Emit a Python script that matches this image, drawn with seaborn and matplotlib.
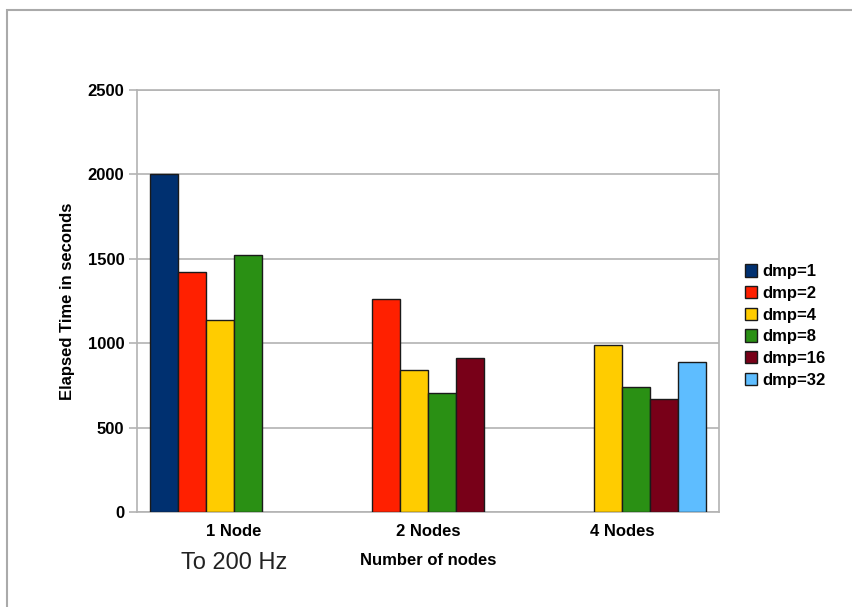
import numpy as np
import pandas as pd
import matplotlib
matplotlib.use("Agg")
import matplotlib.pyplot as plt
import seaborn as sns
from matplotlib.patches import Rectangle

# Elapsed time per node count and dmp setting (NaN = configuration not run)
node_labels = ["1 Node", "2 Nodes", "4 Nodes"]
dmp_labels = ["dmp=1", "dmp=2", "dmp=4", "dmp=8", "dmp=16", "dmp=32"]
dmp1 = [2000, np.nan, np.nan]
dmp2 = [1420, 1260, np.nan]
dmp4 = [1135, 840, 990]
dmp8 = [1520, 705, 740]
dmp16 = [np.nan, 910, 670]
dmp32 = [np.nan, np.nan, 890]
y_ticks = [0, 500, 1000, 1500, 2000, 2500]

colors = ["#003070", "#ff2000", "#ffcc00", "#2a9014", "#780018", "#5ebdff"]

series = [dmp1, dmp2, dmp4, dmp8, dmp16, dmp32]
rows = []
for label, vals in zip(dmp_labels, series):
    for node, v in zip(node_labels, vals):
        rows.append({"nodes": node, "dmp": label, "time": v})
df = pd.DataFrame(rows)

sns.set_theme(style="white")
plt.rcParams["font.family"] = ["Liberation Sans", "DejaVu Sans"]
plt.rcParams["text.color"] = "black"
plt.rcParams["axes.labelcolor"] = "black"
plt.rcParams["xtick.labelcolor"] = "black"
plt.rcParams["ytick.labelcolor"] = "black"

fig = plt.figure(figsize=(8.53, 6.07), dpi=100)
ax = fig.add_axes([137 / 853, 1 - 512 / 607, (719 - 137) / 853, (512 - 90) / 607])

sns.barplot(data=df, x="nodes", y="time", hue="dmp", order=node_labels,
            hue_order=dmp_labels, palette=colors, width=0.866, dodge=True,
            edgecolor="#1a1a1a", linewidth=1.0, saturation=1, ax=ax,
            legend=True, zorder=3)

ax.set_ylim(0, 2500)
ax.set_xlim(-0.5, 2.5)
ax.set_yticks(y_ticks)
ax.set_yticklabels([str(t) for t in y_ticks], fontsize=12, fontweight="bold")
ax.yaxis.grid(True, color="#b3b3b3", linewidth=1.2, zorder=0)
ax.set_axisbelow(True)

# category labels centred, ticks at category boundaries
ax.set_xticks([0, 1, 2])
ax.set_xticklabels(node_labels, fontsize=12, fontweight="bold")
ax.tick_params(axis="x", length=0, pad=9)
ax.set_xticks([-0.5, 0.5, 1.5, 2.5], minor=True)
ax.tick_params(axis="x", which="minor", length=6, color="#b3b3b3", width=1.2)
ax.tick_params(axis="y", length=6, color="#b3b3b3", width=1.2, pad=3, left=True)

for s in ax.spines.values():
    s.set_color("#b3b3b3")
    s.set_linewidth(1.2)

ax.set_xlabel("Number of nodes", fontsize=12, fontweight="bold", labelpad=10)
ax.set_ylabel("Elapsed Time in seconds", fontsize=12, fontweight="bold", labelpad=9)

handles, labels = ax.get_legend_handles_labels()
ax.legend(handles, labels, loc="center left", bbox_to_anchor=(738 / 853, 1 - 326 / 607),
          bbox_transform=fig.transFigure, frameon=False, prop={"size": 12, "weight": "bold"},
          handlelength=0.75, handleheight=0.75, handletextpad=0.3, labelspacing=0.4,
          borderaxespad=0)

fig.text(234 / 853, 1 - 563 / 607, "To 200 Hz", fontsize=17, ha="center", va="center",
         color="#222222")

# outer frame
fig.patches.append(Rectangle((7 / 853, -0.1), 1.2, 1 - 10 / 607 + 0.1, transform=fig.transFigure,
                             fill=False, edgecolor="#aaaaaa", linewidth=1.5, zorder=0))

fig.savefig("out.png", dpi=100)
